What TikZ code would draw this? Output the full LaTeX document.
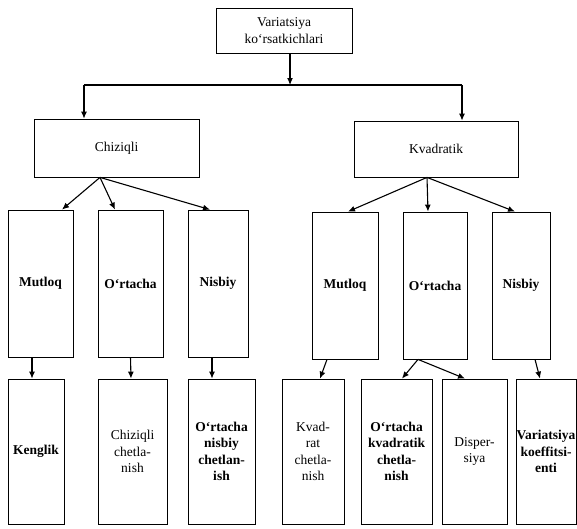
\documentclass[tikz,border=0pt]{standalone}
\usepackage{fontspec}
\setmainfont{Liberation Serif}
\usetikzlibrary{arrows.meta}
\begin{document}
\begin{tikzpicture}[x=1pt,y=1pt,
  box/.style={draw, line width=0.8pt, rectangle, inner sep=0pt, align=center,
    font=\fontsize{13.5}{16.5}\selectfont},
  arr/.style={line width=1.1pt, -{Latex[length=7pt,width=6pt]}},
  ln/.style={line width=1.1pt}]
\useasboundingbox (0,0) rectangle (577,-528);
% top
\node[box, minimum width=136, minimum height=45] (top) at (284,-30.5) {Variatsiya\\ko‘rsatkichlari};
% level 1
\node[box, minimum width=165, minimum height=58] (chiz) at (116.5,-148) {Chiziqli};
\node[box, minimum width=164, minimum height=56] (kvad) at (436,-149) {Kvadratik};
% level 2
\node[box, minimum width=65, minimum height=147, font=\fontsize{13.5}{16.5}\selectfont\bfseries] (lm) at (40.5,-283.5) {Mutloq};
\node[box, minimum width=65, minimum height=147, font=\fontsize{13.5}{16.5}\selectfont\bfseries] (lo) at (130.5,-283.5) {O‘rtacha};
\node[box, minimum width=60, minimum height=147, font=\fontsize{13.5}{16.5}\selectfont\bfseries] (lnb) at (218,-283.5) {Nisbiy};
\node[box, minimum width=66, minimum height=147, font=\fontsize{13.5}{16.5}\selectfont\bfseries] (rm) at (345,-285.5) {Mutloq};
\node[box, minimum width=64, minimum height=147, font=\fontsize{13.5}{16.5}\selectfont\bfseries] (ro) at (435,-285.5) {O‘rtacha};
\node[box, minimum width=58, minimum height=147, font=\fontsize{13.5}{16.5}\selectfont\bfseries] (rn) at (521,-285.5) {Nisbiy};
% level 3
\node[box, minimum width=56, minimum height=145, font=\fontsize{13.5}{16.5}\selectfont\bfseries] (b1) at (36,-451.5) {Kenglik};
\node[box, minimum width=69, minimum height=145] (b2) at (132.5,-451.5) {Chiziqli\\chetla-\\nish};
\node[box, minimum width=67, minimum height=145, font=\fontsize{13.5}{16.5}\selectfont\bfseries] (b3) at (221.5,-451.5) {O‘rtacha\\nisbiy\\chetlan-\\ish};
\node[box, minimum width=62, minimum height=145] (b4) at (313,-451.5) {Kvad-\\rat\\chetla-\\nish};
\node[box, minimum width=71, minimum height=145, font=\fontsize{13.5}{16.5}\selectfont\bfseries] (b5) at (396.5,-451.5) {O‘rtacha\\kvadratik\\chetla-\\nish};
\node[box, minimum width=65, minimum height=145] (b6) at (474.5,-451.5) {Disper-\\siya};
\node[box, minimum width=60, minimum height=145, font=\fontsize{13.5}{16.5}\selectfont\bfseries] (b7) at (546,-451.5) {Variatsiya\\koeffitsi-\\enti};
% top connectors
\coordinate (jL) at (84,-85);
\coordinate (jM) at (290,-85);
\coordinate (jR) at (462,-85);
\draw[ln] (jL) -- (jR);
\draw[arr] (top.south -| jM) -- (jM);
\draw[arr] (jL) -- (jL |- chiz.north);
\draw[arr] (jR) -- (jR |- kvad.north);
% level 1 -> 2
\draw[arr] ([xshift=-16.5pt]chiz.south) -- ([xshift=21.5pt]lm.north);
\draw[arr] ([xshift=-16.5pt]chiz.south) -- ([xshift=-15.5pt]lo.north);
\draw[arr] ([xshift=-16.5pt]chiz.south) -- ([xshift=-8pt]lnb.north);
\draw[arr] ([xshift=-9pt]kvad.south) -- ([xshift=3pt]rm.north);
\draw[arr] ([xshift=-9pt]kvad.south) -- ([xshift=-7pt]ro.north);
\draw[arr] ([xshift=-9pt]kvad.south) -- ([xshift=-6pt]rn.north);
% level 2 -> 3
\draw[arr] ([xshift=-8.5pt]lm.south) -- ([xshift=-4pt]b1.north);
\draw[arr] (lo.south) -- ([xshift=-1.5pt]b2.north);
\draw[arr] ([xshift=-6pt]lnb.south) -- ([xshift=-9.5pt]b3.north);
\draw[arr] ([xshift=-18pt]rm.south) -- ([xshift=7pt]b4.north);
\draw[arr] ([xshift=-17pt]ro.south) -- ([xshift=5.5pt]b5.north);
\draw[arr] ([xshift=-17pt]ro.south) -- ([xshift=-9.5pt]b6.north);
\draw[arr] ([xshift=14pt]rn.south) -- ([xshift=-6pt]b7.north);
\end{tikzpicture}
\end{document}
